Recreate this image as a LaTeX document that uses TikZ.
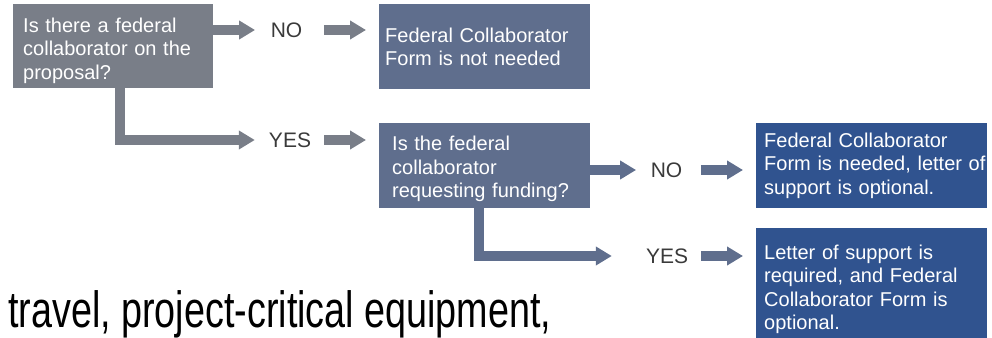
\documentclass[tikz,border=0pt]{standalone}
\usepackage{fontspec}
\setmainfont{Liberation Sans}
\newfontfamily\narrowfont[FakeStretch=0.74]{Liberation Sans}
\usetikzlibrary{arrows.meta,positioning}
\definecolor{qgray}{HTML}{797E88}
\definecolor{qslate}{HTML}{5F6E8D}
\definecolor{anavy}{HTML}{30538F}
\definecolor{lbltext}{HTML}{3A3A3A}
\newcommand\padtop[1]{\rule{0pt}{#1}}
\tikzset{
  qbox/.style={fill=qgray,text=white,align=left,anchor=north west,inner ysep=0pt,font=\fontsize{20}{23.5}\selectfont},
  sbox/.style={qbox,fill=qslate},
  abox/.style={qbox,fill=anavy},
  lbl/.style={text=lbltext,inner sep=0pt,font=\fontsize{21}{24}\selectfont},
  flow/.style={line width=10pt,-{Triangle[length=16pt,width=18pt]},shorten >=13pt},
  flowg/.style={flow,color=qgray},
  flows/.style={flow,color=qslate},
}

\begin{document}
\begin{tikzpicture}[x=1pt,y=-1pt]
  \useasboundingbox (0,0) rectangle (992,337);
  % question and answer boxes
  \node[qbox,text width=180pt,inner xsep=10pt,minimum height=84pt] (qa) at (13,4) {\padtop{23pt}Is there a federal collaborator on the proposal?};
  \node[sbox,text width=199pt,inner xsep=6pt,minimum height=85pt] (fb) at (379,4) {Federal Collaborator\\Form is not needed};
  \node[sbox,text width=185pt,inner xsep=13pt,minimum height=85pt] (qc) at (379,123) {\padtop{21pt}Is the federal\\collaborator\\requesting funding?};
  \node[abox,text width=215pt,inner xsep=8pt,minimum height=85pt] (fd) at (756,123) {Federal Collaborator\\\mbox{Form is needed, letter of}\\support is optional.};
  \node[abox,text width=215pt,inner xsep=8pt,minimum height=122pt] (fe) at (756,228) {Letter of support is\\required, and Federal\\Collaborator Form is\\optional.};
  % answers
  \node[lbl] (no1) at (286.5,30) {NO};
  \node[lbl] (yes1) at (290,140) {YES};
  \node[lbl] (no2) at (666.5,170) {NO};
  \node[lbl] (yes2) at (667,256) {YES};
  % connectors
  \draw[flowg,shorten >=15.5pt] (qa.east |- no1.west) -- (no1.west);
  \draw[flowg,shorten <=21.5pt] (no1.east) -- (no1.east -| fb.west);
  \draw[flowg,shorten >=14pt] ([xshift=7pt]qa.south) |- (yes1.west);
  \draw[flowg,shorten <=13pt] (yes1.east) -- (yes1.east -| qc.west);
  \draw[flows,shorten >=14.5pt] (qc.east |- no2.west) -- (no2.west);
  \draw[flows,shorten <=18.5pt] (no2.east) -- (no2.east -| fd.west);
  \draw[flows,shorten >=34pt] ([xshift=-5.5pt]qc.south) |- (yes2.west);
  \draw[flows,shorten <=13pt] (yes2.east) -- (yes2.east -| fe.west);
  % cut-off slide text
  \node[anchor=base west,inner sep=0pt,font=\narrowfont\fontsize{51}{60}\selectfont] (slide) at (8,327) {travel, project-critical equipment,};
\end{tikzpicture}
\end{document}
